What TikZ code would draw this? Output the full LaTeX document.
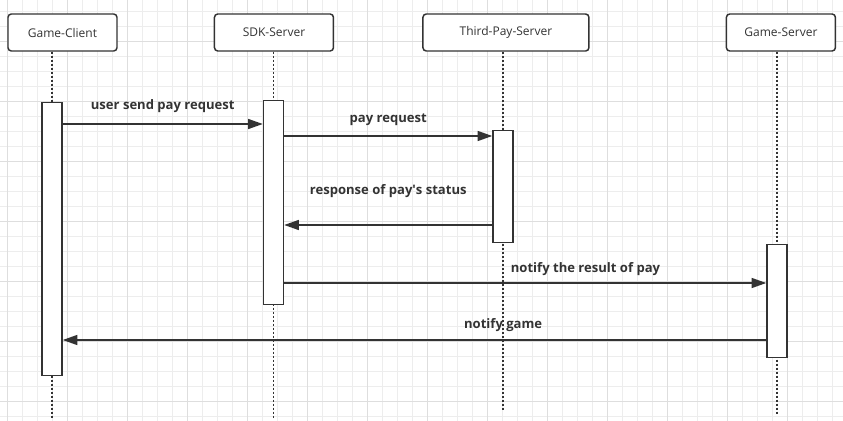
\documentclass[tikz,border=0pt]{standalone}
\usepackage{fontspec}
\setmainfont{Open Sans}
\usetikzlibrary{positioning,arrows.meta}

\definecolor{ink}{HTML}{333333}
\definecolor{gridminor}{HTML}{EDEDED}
\definecolor{gridmajor}{HTML}{DEDEDE}

\begin{document}
\begin{tikzpicture}[x=0.75pt, y=-0.75pt,
  actor/.style={draw=ink, line width=1.1pt, rounded corners=2.5pt, fill=white,
    minimum height=27.75pt, inner sep=0pt, text=ink, font=\fontsize{9}{11}\selectfont},
  act/.style={draw=ink, line width=1.1pt, fill=white, anchor=north,
    minimum width=15pt, inner sep=0pt},
  life/.style={draw=ink, line width=1.1pt, dash pattern=on 1.5pt off 1.5pt},
  msg/.style={draw=ink, line width=1.1pt, -{Triangle[length=11pt, width=7.5pt]}},
  lbl/.style={text=ink, inner sep=1pt, font=\fontsize{9.8}{11}\selectfont\bfseries}]

  \useasboundingbox (0,0) rectangle (843,421);

  % background grid
  \foreach \gx in {7.5,22.5,...,847.5}
    \draw[gridminor, line width=0.6pt] (\gx,0) -- (\gx,421);
  \foreach \gy in {11,26,...,421}
    \draw[gridminor, line width=0.6pt] (0,\gy) -- (843,\gy);
  \foreach \gx in {7.5,67.5,...,847.5}
    \draw[gridmajor, line width=0.6pt] (\gx,0) -- (\gx,421);
  \foreach \gy in {41,101,...,421}
    \draw[gridmajor, line width=0.6pt] (0,\gy) -- (843,\gy);

  % participants
  \node[actor, minimum width=81.75pt] (client) at (62.5,32.5) {Game-Client};
  \node[actor, minimum width=89.25pt, right=72pt of client] (sdk) {SDK-Server};
  \node[actor, minimum width=124.5pt, right=66pt of sdk] (third) {Third-Pay-Server};
  \node[actor, minimum width=81.75pt, right=102pt of third] (game) {Game-Server};

  \coordinate (clientEnd) at (52,418);
  \coordinate (sdkEnd) at (273.5,418);
  \coordinate (thirdEnd) at (503,410);
  \coordinate (gameEnd) at (777,415);

  % lifelines
  \draw[life] (clientEnd |- client.south) -- (clientEnd);
  \draw[life] (sdkEnd |- sdk.south) -- (sdkEnd);
  \draw[life] (thirdEnd |- third.south) -- (thirdEnd);
  \draw[life] (gameEnd |- game.south) -- (gameEnd);

  % activations
  \node[act, minimum height=204.75pt] (clientAct) at (52,102) {};
  \node[act, minimum height=153pt] (sdkAct) at (273.5,100) {};
  \node[act, minimum height=84pt] (thirdAct) at (503,130) {};
  \node[act, minimum height=84.75pt] (gameAct) at (777,244) {};

  % messages
  \draw[msg] (clientAct.east |- 0,124) -- (sdkAct.west |- 0,124)
    node[lbl, midway, above=7pt] {user send pay request};
  \draw[msg] (sdkAct.east |- 0,136) -- (thirdAct.west |- 0,136)
    node[lbl, midway, above=6pt] {pay request};
  \draw[msg] (thirdAct.west |- 0,225) -- (sdkAct.east |- 0,225)
    node[lbl, midway, above=19pt] {response of pay\textquotesingle s status};
  \draw[msg] (sdkAct.east |- 0,283) -- (gameAct.west |- 0,283)
    node[lbl, pos=0.625, above=4pt] {notify the result of pay};
  \draw[msg] (gameAct.west |- 0,340) -- (clientAct.east |- 0,340)
    node[lbl, pos=0.374, above=5pt] {notify game};
\end{tikzpicture}
\end{document}
